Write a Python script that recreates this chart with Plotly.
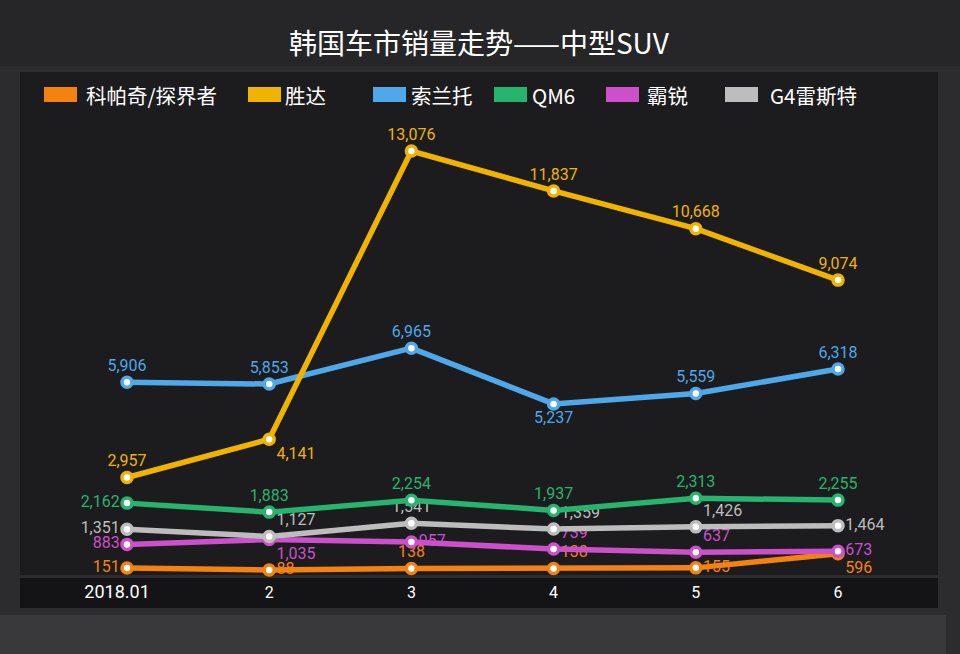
import plotly.graph_objects as go

months = ["2018.01", "2", "3", "4", "5", "6"]
series_names = ["科帕奇/探界者", "胜达", "索兰托", "QM6", "霸锐", "G4雷斯特"]
captiva = [151, 88, 138, 138, 155, 596]
santafe = [2957, 4141, 13076, 11837, 10668, 9074]
sorento = [5906, 5853, 6965, 5237, 5559, 6318]
qm6 = [2162, 1883, 2254, 1937, 2313, 2255]
rexton = [883, 1035, 957, 739, 637, 673]
g4 = [1351, 1127, 1541, 1359, 1426, 1464]

colors = ["#f5820f", "#f0b400", "#4ea8ea", "#27b46f", "#cc4fcc", "#bdbdbd"]
positions = [
    ["middle left", "middle right", "top center", "top right", "middle right", "bottom right"],
    ["top center", "bottom right", "top center", "top center", "top center", "top center"],
    ["top center", "top center", "top center", "bottom center", "top center", "top center"],
    ["middle left", "top center", "top center", "top center", "top center", "top center"],
    ["middle left", "bottom right", "middle right", "top right", "top right", "middle right"],
    ["middle left", "top right", "top center", "top right", "top right", "middle right"],
]
all_series = [captiva, santafe, sorento, qm6, rexton, g4]

W, H = 960, 654
L, R, T, B = 20, 940, 72, 573
x0, x5 = 127, 838
step = (x5 - x0) / 5
xr = [-(x0 - L) / step, 5 + (R - x5) / step]
ypp = (568 - 151) / (13076 - 151)
y_zero = 568 + 151 * ypp
ymax = (y_zero - T) / ypp
ymin = -(B - y_zero) / ypp

fig = go.Figure()
order = [0, 4, 5, 3, 2, 1]
for i in order:
    vals = all_series[i]
    fig.add_trace(go.Scatter(
        x=list(range(len(months))), y=vals, mode="lines+markers+text",
        name=series_names[i],
        line=dict(color=colors[i], width=5.5),
        marker=dict(size=10, color="white", line=dict(color=colors[i], width=3.5)),
        text=[f"{v:,}" for v in vals], textposition=positions[i],
        textfont=dict(color=colors[i], size=16, family="Roboto, Noto Sans"),
        showlegend=False, cliponaxis=False,
    ))

def px(x):
    return (x - L) / (R - L)

def py(y):
    return (B - y) / (B - T)

shapes = [
    dict(type="rect", xref="paper", yref="paper", x0=px(0), x1=px(W), y0=py(66), y1=py(0),
         fillcolor="#262628", line_width=0, layer="below"),
    dict(type="rect", xref="paper", yref="paper", x0=px(20), x1=px(938), y0=py(575), y1=py(72),
         fillcolor="#1c1c1e", line_width=0, layer="below"),
    dict(type="rect", xref="paper", yref="paper", x0=px(20), x1=px(938), y0=py(608), y1=py(578),
         fillcolor="#141416", line_width=0, layer="below"),
    dict(type="rect", xref="paper", yref="paper", x0=px(0), x1=px(946), y0=py(H), y1=py(615),
         fillcolor="#39393c", line_width=0, layer="below"),
]
leg = [(44, 84), (248, 283), (373, 409), (494, 530), (606, 645), (725, 768)]
annotations = [dict(text="韩国车市销量走势——中型SUV", xref="paper", yref="paper",
                    x=px(479), y=py(42), xanchor="center", yanchor="middle", showarrow=False,
                    font=dict(size=28, color="white", family="Noto Sans CJK SC"))]
for i, (sx, tx) in enumerate(leg):
    shapes.append(dict(type="rect", xref="paper", yref="paper", x0=px(sx), x1=px(sx + 33),
                       y0=py(102), y1=py(87), fillcolor=colors[i], line_width=0))
    annotations.append(dict(text=series_names[i], xref="paper", yref="paper", x=px(tx), y=py(95),
                            xanchor="left", yanchor="middle", showarrow=False,
                            font=dict(size=20.5, color="white", family="Noto Sans CJK SC")))

tick_text = ["<span style='font-size:18px'>" + months[0] + "</span>&nbsp;&nbsp;&nbsp;&nbsp;&nbsp;"] + months[1:]

fig.update_layout(
    width=W, height=H, paper_bgcolor="#2c2c2e", plot_bgcolor="rgba(0,0,0,0)",
    margin=dict(l=L, r=W - R, t=T, b=H - B),
    shapes=shapes, annotations=annotations,
    xaxis=dict(range=xr, tickvals=list(range(6)), ticktext=tick_text, showgrid=False,
               zeroline=False, showline=False, ticks="outside", ticklen=5,
               tickcolor="rgba(0,0,0,0)",
               tickfont=dict(size=16, color="white", family="Roboto")),
    yaxis=dict(range=[ymin, ymax], visible=False, showgrid=False),
)
fig.write_html("out.html", config={"displayModeBar": False},
               post_script="document.body.style.margin='0';document.body.style.overflow='hidden';")
